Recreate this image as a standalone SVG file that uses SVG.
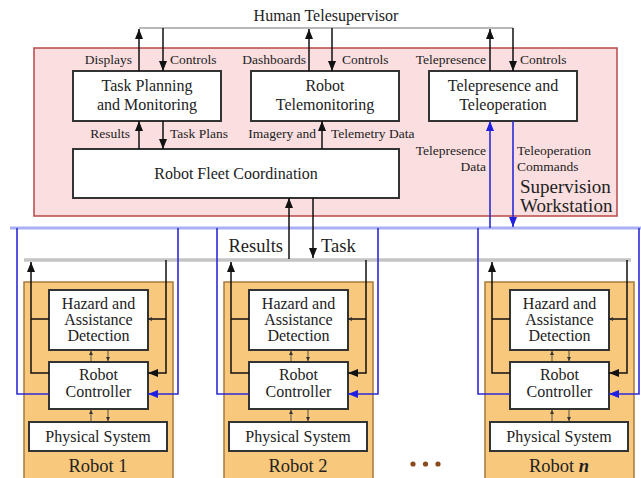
<svg xmlns="http://www.w3.org/2000/svg" width="641" height="478" viewBox="0 0 641 478">
<defs>
<style>
text{font-family:"Liberation Serif","Times New Roman",serif;fill:#222}
.t16{font-size:16px}
.t13{font-size:13.5px}
.t18{font-size:18.5px}
.box{fill:#fff;stroke:#333;stroke-width:2}
.ln{fill:none;stroke:#111;stroke-width:1.5}
.bl{fill:none;stroke:#2b2bd6;stroke-width:1.6}
.sm{fill:none;stroke:#333;stroke-width:0.8}
</style>
<marker id="ab" markerUnits="userSpaceOnUse" markerWidth="10" markerHeight="8" refX="10" refY="4" orient="auto"><path d="M0,0 L10,4 L0,8 z" fill="#111"/></marker>
<marker id="au" markerUnits="userSpaceOnUse" markerWidth="10" markerHeight="8" refX="10" refY="4" orient="auto"><path d="M0,0 L10,4 L0,8 z" fill="#2020e0"/></marker>
<marker id="as" markerUnits="userSpaceOnUse" markerWidth="4" markerHeight="4" refX="4" refY="2" orient="auto"><path d="M0,0 L4,2 L0,4 z" fill="#333"/></marker>
</defs>
<rect width="641" height="478" fill="#fff"/>

<g id="workstation">
<rect x="34" y="48" width="583" height="168" fill="#fbdfe0" stroke="#b84848" stroke-width="1.5"/>
<text class="t18" x="520" y="193" style="font-size:19px">Supervision</text>
<text class="t18" x="520" y="212" style="font-size:19px">Workstation</text>
</g>

<g id="human"><text class="t16" x="326" y="21" text-anchor="middle">Human Telesupervisor</text></g>

<g id="task-planning">
<rect class="box" x="73" y="71" width="148" height="50"/>
<text class="t16" x="147" y="91" text-anchor="middle">Task Planning</text>
<text class="t16" x="147" y="110" text-anchor="middle">and Monitoring</text>
</g>
<g id="telemonitoring">
<rect class="box" x="251" y="71" width="148" height="50"/>
<text class="t16" x="325" y="91" text-anchor="middle">Robot</text>
<text class="t16" x="325" y="110" text-anchor="middle">Telemonitoring</text>
</g>
<g id="telepresence">
<rect class="box" x="429" y="71" width="148" height="50"/>
<text class="t16" x="503" y="91" text-anchor="middle">Telepresence and</text>
<text class="t16" x="503" y="110" text-anchor="middle">Teleoperation</text>
</g>
<g id="fleet">
<rect class="box" x="73" y="149" width="326" height="49"/>
<text class="t16" x="236" y="179" text-anchor="middle">Robot Fleet Coordination</text>
</g>

<g id="buses">
<line x1="139" y1="28" x2="513" y2="28" stroke="#b8b8b8" stroke-width="2"/>
<line x1="10" y1="228" x2="641" y2="228" stroke="#aab0f4" stroke-width="3"/>
<line x1="24" y1="260" x2="631" y2="260" stroke="#c4c4c4" stroke-width="3.5"/>
</g>

<g id="robot1">
<rect x="24" y="282" width="149" height="200" fill="#f8c87c" stroke="#a87a3a" stroke-width="1.5"/>
<g id="hazard1"><rect class="box" x="49" y="290" width="99" height="60"/>
<text class="t16" x="98.5" y="309" text-anchor="middle">Hazard and</text>
<text class="t16" x="98.5" y="325" text-anchor="middle">Assistance</text>
<text class="t16" x="98.5" y="341" text-anchor="middle">Detection</text></g>
<g id="controller1"><rect class="box" x="49" y="362" width="99" height="47"/>
<text class="t16" x="98.5" y="380" text-anchor="middle">Robot</text>
<text class="t16" x="98.5" y="397" text-anchor="middle">Controller</text></g>
<g id="physical1"><rect class="box" x="29" y="422" width="138" height="29"/>
<text class="t16" x="98" y="442" text-anchor="middle">Physical System</text></g>
<text class="t18" x="98" y="472" text-anchor="middle">Robot 1</text>
</g>

<g id="robot2" transform="translate(200,0)">
<rect x="24" y="282" width="149" height="200" fill="#f8c87c" stroke="#a87a3a" stroke-width="1.5"/>
<g id="hazard2"><rect class="box" x="49" y="290" width="99" height="60"/>
<text class="t16" x="98.5" y="309" text-anchor="middle">Hazard and</text>
<text class="t16" x="98.5" y="325" text-anchor="middle">Assistance</text>
<text class="t16" x="98.5" y="341" text-anchor="middle">Detection</text></g>
<g id="controller2"><rect class="box" x="49" y="362" width="99" height="47"/>
<text class="t16" x="98.5" y="380" text-anchor="middle">Robot</text>
<text class="t16" x="98.5" y="397" text-anchor="middle">Controller</text></g>
<g id="physical2"><rect class="box" x="29" y="422" width="138" height="29"/>
<text class="t16" x="98" y="442" text-anchor="middle">Physical System</text></g>
<text class="t18" x="98" y="472" text-anchor="middle">Robot 2</text>
</g>

<g id="robotn" transform="translate(461,0)">
<rect x="24" y="282" width="149" height="200" fill="#f8c87c" stroke="#a87a3a" stroke-width="1.5"/>
<g id="hazardn"><rect class="box" x="49" y="290" width="99" height="60"/>
<text class="t16" x="98.5" y="309" text-anchor="middle">Hazard and</text>
<text class="t16" x="98.5" y="325" text-anchor="middle">Assistance</text>
<text class="t16" x="98.5" y="341" text-anchor="middle">Detection</text></g>
<g id="controllern"><rect class="box" x="49" y="362" width="99" height="47"/>
<text class="t16" x="98.5" y="380" text-anchor="middle">Robot</text>
<text class="t16" x="98.5" y="397" text-anchor="middle">Controller</text></g>
<g id="physicaln"><rect class="box" x="29" y="422" width="138" height="29"/>
<text class="t16" x="98" y="442" text-anchor="middle">Physical System</text></g>
<text class="t18" x="98" y="472" text-anchor="middle">Robot <tspan font-weight="bold" font-style="italic">n</tspan></text>
</g>

<g id="ellipsis" fill="#8a4a1c"><circle cx="413" cy="464" r="2.6"/><circle cx="425.5" cy="464" r="2.6"/><circle cx="438" cy="464" r="2.6"/></g>

<g id="connectors">
<line class="ln" x1="139" y1="71" x2="139" y2="29" marker-end="url(#ab)"/>
<line class="ln" x1="163" y1="28" x2="163" y2="71" marker-end="url(#ab)"/>
<line class="ln" x1="309" y1="71" x2="309" y2="29" marker-end="url(#ab)"/>
<line class="ln" x1="332" y1="28" x2="332" y2="71" marker-end="url(#ab)"/>
<line class="ln" x1="490" y1="71" x2="490" y2="29" marker-end="url(#ab)"/>
<line class="ln" x1="513" y1="28" x2="513" y2="71" marker-end="url(#ab)"/>
<line class="ln" x1="139" y1="149" x2="139" y2="121" marker-end="url(#ab)"/>
<line class="ln" x1="163" y1="121" x2="163" y2="149" marker-end="url(#ab)"/>
<line class="ln" x1="322" y1="149" x2="322" y2="121" marker-end="url(#ab)"/>
<line class="ln" x1="289" y1="259" x2="289" y2="198" marker-end="url(#ab)"/>
<line class="ln" x1="313" y1="198" x2="313" y2="258" marker-end="url(#ab)"/>
<line class="bl" x1="490" y1="228" x2="490" y2="121" marker-end="url(#au)" stroke="#2020e0"/>
<line class="bl" x1="513" y1="121" x2="513" y2="227" marker-end="url(#au)" stroke="#2020e0"/>
<g id="rc1">
<path class="ln" d="M49,373 H31 V262" marker-end="url(#ab)"/>
<line class="ln" x1="49" y1="319" x2="31" y2="319"/>
<path class="ln" d="M166,260 V373 H148" marker-end="url(#ab)"/>
<line class="ln" x1="166" y1="319" x2="148" y2="319" marker-end="url(#as)"/>
<path class="bl" d="M178,228 V394 H148" marker-end="url(#au)"/>
<path class="bl" d="M49,394 H17 V228"/>
<line class="sm" x1="91" y1="361" x2="91" y2="351" marker-end="url(#as)"/>
<line class="sm" x1="108" y1="351" x2="108" y2="361" marker-end="url(#as)"/>
<line class="sm" x1="91" y1="421" x2="91" y2="410" marker-end="url(#as)"/>
<line class="sm" x1="108" y1="410" x2="108" y2="421" marker-end="url(#as)"/>
</g>
<g id="rc2" transform="translate(200,0)">
<path class="ln" d="M49,373 H31 V262" marker-end="url(#ab)"/>
<line class="ln" x1="49" y1="319" x2="31" y2="319"/>
<path class="ln" d="M166,260 V373 H148" marker-end="url(#ab)"/>
<line class="ln" x1="166" y1="319" x2="148" y2="319" marker-end="url(#as)"/>
<path class="bl" d="M178,228 V394 H148" marker-end="url(#au)"/>
<path class="bl" d="M49,394 H17 V228"/>
<line class="sm" x1="91" y1="361" x2="91" y2="351" marker-end="url(#as)"/>
<line class="sm" x1="108" y1="351" x2="108" y2="361" marker-end="url(#as)"/>
<line class="sm" x1="91" y1="421" x2="91" y2="410" marker-end="url(#as)"/>
<line class="sm" x1="108" y1="410" x2="108" y2="421" marker-end="url(#as)"/>
</g>
<g id="rcn" transform="translate(461,0)">
<path class="ln" d="M49,373 H31 V262" marker-end="url(#ab)"/>
<line class="ln" x1="49" y1="319" x2="31" y2="319"/>
<path class="ln" d="M166,260 V373 H148" marker-end="url(#ab)"/>
<line class="ln" x1="166" y1="319" x2="148" y2="319" marker-end="url(#as)"/>
<path class="bl" d="M178,228 V394 H148" marker-end="url(#au)"/>
<path class="bl" d="M49,394 H17 V228"/>
<line class="sm" x1="91" y1="361" x2="91" y2="351" marker-end="url(#as)"/>
<line class="sm" x1="108" y1="351" x2="108" y2="361" marker-end="url(#as)"/>
<line class="sm" x1="91" y1="421" x2="91" y2="410" marker-end="url(#as)"/>
<line class="sm" x1="108" y1="410" x2="108" y2="421" marker-end="url(#as)"/>
</g>
</g>

<g id="labels">
<text class="t13" x="132" y="64" text-anchor="end">Displays</text>
<text class="t13" x="170" y="64">Controls</text>
<text class="t13" x="306" y="64" text-anchor="end">Dashboards</text>
<text class="t13" x="342" y="64">Controls</text>
<text class="t13" x="486" y="64" text-anchor="end">Telepresence</text>
<text class="t13" x="520" y="64">Controls</text>
<text class="t13" x="130" y="138" text-anchor="end">Results</text>
<text class="t13" x="170" y="138">Task Plans</text>
<text class="t13" x="316" y="138" text-anchor="end">Imagery and</text>
<text class="t13" x="331" y="138">Telemetry Data</text>
<text class="t13" x="486" y="155" text-anchor="end">Telepresence</text>
<text class="t13" x="486" y="171" text-anchor="end">Data</text>
<text class="t13" x="517" y="155">Teleoperation</text>
<text class="t13" x="517" y="171">Commands</text>
<text class="t18" x="283" y="252" text-anchor="end">Results</text>
<text class="t18" x="321" y="252">Task</text>
</g>
</svg>
